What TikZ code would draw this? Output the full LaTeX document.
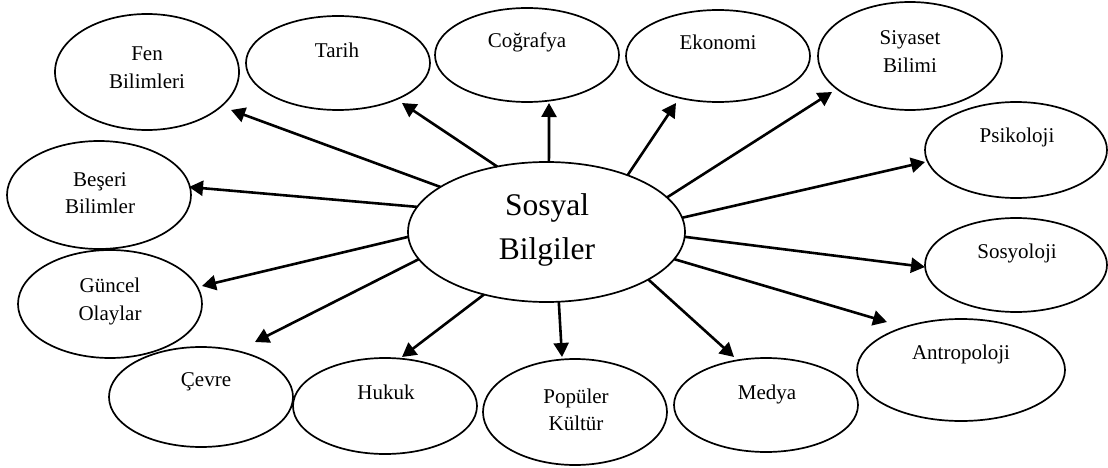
\documentclass[tikz,border=0pt]{standalone}
\usepackage{fontspec}
\setmainfont{Liberation Serif}
\usetikzlibrary{shapes.geometric,arrows.meta}
\tikzset{
  oval/.style={draw, ellipse, line width=1.7pt, inner sep=0pt, outer sep=0pt},
  lbl/.style={align=center, font=\fontsize{21}{27.5}\selectfont, inner sep=0pt},
  big/.style={align=center, font=\fontsize{31.5}{44}\selectfont, inner sep=0pt},
  arr/.style={-{Triangle[length=14pt,width=15pt]}, line width=2.6pt},
}
\begin{document}
\begin{tikzpicture}[x=1pt,y=-1pt]
\useasboundingbox (0,0) rectangle (1108,468);
% central ellipse
\node[oval, minimum width=277pt, minimum height=140pt] (sb) at (546.5,232) {};
\node[big] (sbt) at (547,230) {Sosyal\\Bilgiler};
% outer ellipses
\node[oval, minimum width=184pt, minimum height=116pt] (fen) at (147,72) {};
\node[lbl] (fent) at (147,67.5) {Fen\\Bilimleri};
\node[oval, minimum width=184pt, minimum height=94pt] (tar) at (338,63) {};
\node[lbl] (tart) at (337,50) {Tarih};
\node[oval, minimum width=184pt, minimum height=94pt] (cog) at (527,55) {};
\node[lbl] (cogt) at (527,42) {Coğrafya};
\node[oval, minimum width=184pt, minimum height=92pt] (eko) at (718,56) {};
\node[lbl] (ekot) at (718,42) {Ekonomi};
\node[oval, minimum width=184pt, minimum height=108pt] (siy) at (910,56) {};
\node[lbl] (siyt) at (910,51.5) {Siyaset\\Bilimi};
\node[oval, minimum width=182pt, minimum height=96pt] (psi) at (1016,150) {};
\node[lbl] (psit) at (1017,137) {Psikoloji};
\node[oval, minimum width=182pt, minimum height=94pt] (sos) at (1016,265) {};
\node[lbl] (sost) at (1017,253) {Sosyoloji};
\node[oval, minimum width=208pt, minimum height=102pt] (ant) at (961,370) {};
\node[lbl] (antt) at (961,354) {Antropoloji};
\node[oval, minimum width=184pt, minimum height=94pt] (med) at (766,405) {};
\node[lbl] (medt) at (767,394) {Medya};
\node[oval, minimum width=184pt, minimum height=106pt] (pop) at (575,412) {};
\node[lbl] (popt) at (576,410) {Popüler\\Kültür};
\node[oval, minimum width=184pt, minimum height=96pt] (huk) at (385,406) {};
\node[lbl] (hukt) at (386,392) {Hukuk};
\node[oval, minimum width=184pt, minimum height=100pt] (cev) at (201,397) {};
\node[lbl] (cevt) at (206,382) {Çevre};
\node[oval, minimum width=184pt, minimum height=108pt] (gun) at (110,304) {};
\node[lbl] (gunt) at (110,301.5) {Güncel\\Olaylar};
\node[oval, minimum width=184pt, minimum height=108pt] (bes) at (99,195) {};
\node[lbl] (best) at (100,193) {Beşeri\\Bilimler};
% arrow tips
\coordinate (fen-in) at (231,110);
\coordinate (tar-in) at (402,103);
\coordinate (cog-in) at (549,103);
\coordinate (eko-in) at (676,103);
\coordinate (siy-in) at (832,92);
\coordinate (psi-in) at (925,162);
\coordinate (sos-in) at (925,267);
\coordinate (ant-in) at (887,322);
\coordinate (med-in) at (734,357);
\coordinate (pop-in) at (562,357);
\coordinate (huk-in) at (402,357);
\coordinate (cev-in) at (255,342);
\coordinate (gun-in) at (202,286);
\coordinate (bes-in) at (189,187);
% connectors
\draw[arr] (sb.157.1) -- (fen-in);
\draw[arr] (sb.127.4) -- (tar-in);
\draw[arr] (sb.88) -- (cog-in);
\draw[arr] (sb.35.4) -- (eko-in);
\draw[arr] (sb.16.6) -- (siy-in);
\draw[arr] (sb.6.2) -- (psi-in);
\draw[arr] (sb.-2.1) -- (sos-in);
\draw[arr] (sb.-12.9) -- (ant-in);
\draw[arr] (sb.-25.3) -- (med-in);
\draw[arr] (sb.-80.9) -- (pop-in);
\draw[arr] (sb.225.2) -- (huk-in);
\draw[arr] (sb.192.9) -- (cev-in);
\draw[arr] (sb.182.5) -- (gun-in);
\draw[arr] (sb.169.5) -- (bes-in);
\end{tikzpicture}
\end{document}
